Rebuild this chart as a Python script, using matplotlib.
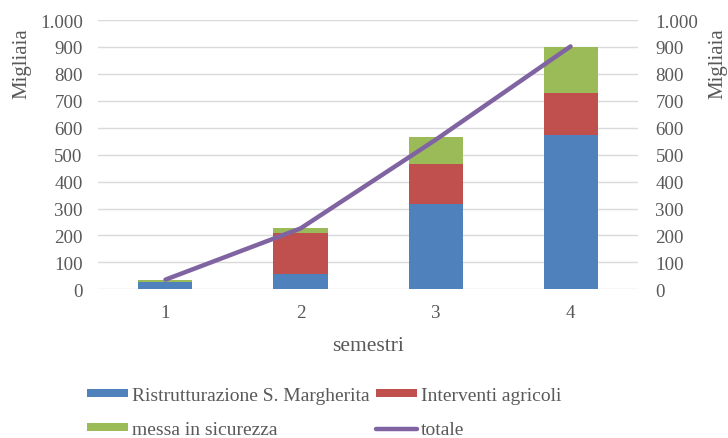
import matplotlib
matplotlib.use("Agg")
import matplotlib.pyplot as plt
from matplotlib.ticker import FuncFormatter

plt.rcParams['font.family'] = ['Liberation Serif', 'DejaVu Serif']

semestri = ['1', '2', '3', '4']
ristrutturazione = [27, 56, 315, 574]
interventi = [1, 152, 152, 156]
sicurezza = [7, 19, 98, 170]
totale = [36, 226, 555, 902]

c_blu = '#4F81BD'
c_rosso = '#C0504D'
c_verde = '#9BBB59'
c_viola = '#8064A2'
grigio = '#595959'

fig = plt.figure(figsize=(7.28, 4.39), dpi=100)
ax = fig.add_axes([0.1346, 0.3387, 0.7418, 0.6134])

x = range(len(semestri))
base2 = [a + b for a, b in zip(ristrutturazione, interventi)]
b1 = ax.bar(x, ristrutturazione, width=0.4, color=c_blu, label='Ristrutturazione S. Margherita', zorder=2)
b2 = ax.bar(x, interventi, width=0.4, bottom=ristrutturazione, color=c_rosso, label='Interventi agricoli', zorder=2)
b3 = ax.bar(x, sicurezza, width=0.4, bottom=base2, color=c_verde, label='messa in sicurezza', zorder=2)
l1, = ax.plot(x, totale, color=c_viola, lw=3.2, solid_capstyle='round', label='totale', zorder=3)

fmt = FuncFormatter(lambda v, p: f'{int(v):,}'.replace(',', '.'))
ax.set_xlim(-0.5, 3.5)
ax.set_ylim(0, 1000)
ax.set_yticks(range(0, 1001, 100))
ax.yaxis.set_major_formatter(fmt)
ax.set_xticks(list(x))
ax.set_xticklabels(semestri)
ax.grid(axis='y', color='#D9D9D9', lw=1, zorder=0)
for s in ax.spines.values():
    s.set_visible(False)
ax.tick_params(length=0, labelsize=13.6, colors=grigio, pad=11)
ax.tick_params(axis='x', pad=10.5)
ax.set_ylabel('Migliaia', fontsize=15, color=grigio)
ax.yaxis.set_label_coords(-0.1226, 0.84)
ax.set_xlabel('semestri', fontsize=15.5, color=grigio, labelpad=11)

ax2 = ax.twinx()
ax2.set_ylim(0, 1000)
ax2.set_yticks(range(0, 1001, 100))
ax2.yaxis.set_major_formatter(fmt)
for s in ax2.spines.values():
    s.set_visible(False)
ax2.tick_params(length=0, labelsize=13.6, colors=grigio, pad=12.5)
ax2.set_ylabel('Migliaia', fontsize=15, color=grigio)
ax2.yaxis.set_label_coords(1.131, 0.84)

# ordine per righe: due colonne riempite riga per riga
leg = fig.legend(handles=[b1, b3, b2, l1], loc='upper left', bbox_to_anchor=(0.1195, 0.117),
                 ncol=2, frameon=False, fontsize=14, handlelength=2.1, handleheight=0.25,
                 handletextpad=0.2, columnspacing=0.36, labelspacing=0.9, borderpad=0,
                 borderaxespad=0)
for t in leg.get_texts():
    t.set_color(grigio)

fig.savefig('out.png', dpi=100)
